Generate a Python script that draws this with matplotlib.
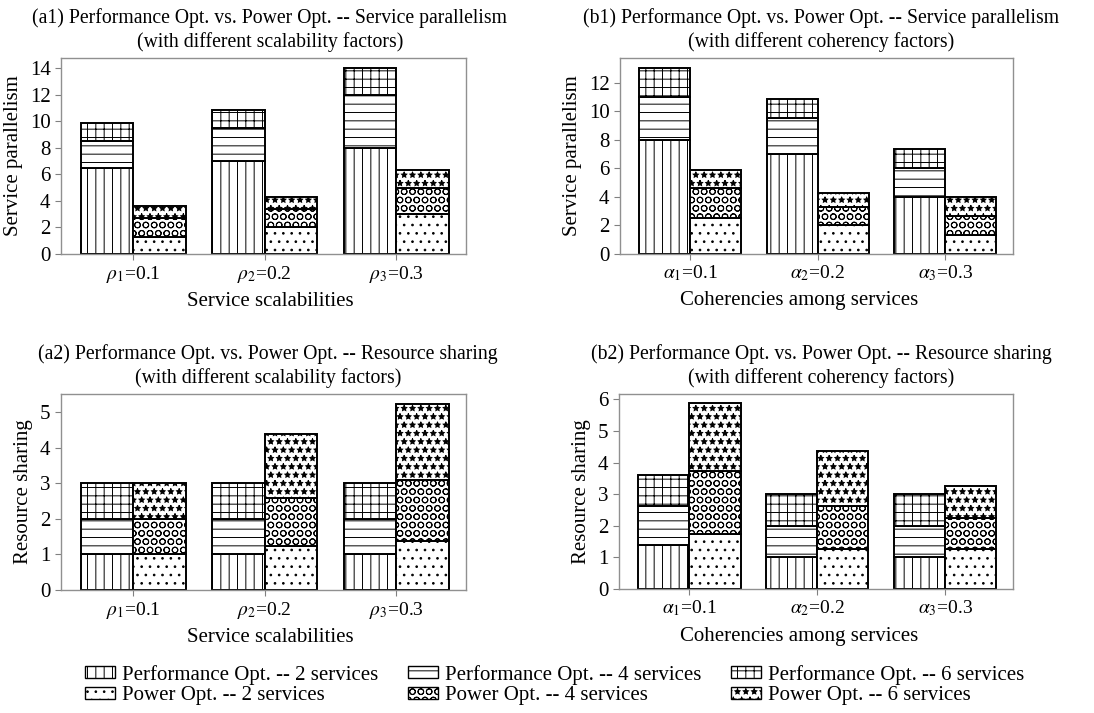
import numpy as np
import matplotlib
matplotlib.use("Agg")
import matplotlib.pyplot as plt
from matplotlib.patches import Patch

plt.rcParams["font.family"] = ["Liberation Serif", "DejaVu Serif"]
plt.rcParams["mathtext.fontset"] = "stix"
plt.rcParams["hatch.linewidth"] = 0.7

# stacked segment heights: [group1, group2, group3]
# (a1) service parallelism vs scalability
a1_perf2 = [6.5, 7.0, 8.0]
a1_perf4 = [2.0, 2.5, 4.0]
a1_perf6 = [1.35, 1.35, 2.0]
a1_pow2 = [1.3, 2.0, 3.0]
a1_pow4 = [1.4, 1.4, 2.0]
a1_pow6 = [0.95, 0.9, 1.35]

# (b1) service parallelism vs coherency
b1_perf2 = [8.0, 7.0, 4.0]
b1_perf4 = [3.0, 2.5, 2.0]
b1_perf6 = [2.0, 1.35, 1.35]
b1_pow2 = [2.5, 2.0, 1.3]
b1_pow4 = [2.1, 1.3, 1.35]
b1_pow6 = [1.25, 1.0, 1.35]

# (a2) resource sharing vs scalability
a2_perf2 = [1.0, 1.0, 1.0]
a2_perf4 = [1.0, 1.0, 1.0]
a2_perf6 = [1.0, 1.0, 1.0]
a2_pow2 = [1.0, 1.25, 1.37]
a2_pow4 = [1.0, 1.35, 1.73]
a2_pow6 = [1.0, 1.78, 2.15]

# (b2) resource sharing vs coherency
b2_perf2 = [1.38, 1.0, 1.0]
b2_perf4 = [1.24, 1.0, 1.0]
b2_perf6 = [1.0, 1.0, 1.0]
b2_pow2 = [1.75, 1.25, 1.25]
b2_pow4 = [1.97, 1.37, 1.0]
b2_pow6 = [2.16, 1.76, 1.0]

rho_labels = [r"$\rho_1$=0.1", r"$\rho_2$=0.2", r"$\rho_3$=0.3"]
alpha_labels = [r"$\alpha_1$=0.1", r"$\alpha_2$=0.2", r"$\alpha_3$=0.3"]

series_names = ["Performance Opt. -- 2 services", "Performance Opt. -- 4 services",
                "Performance Opt. -- 6 services", "Power Opt. -- 2 services",
                "Power Opt. -- 4 services", "Power Opt. -- 6 services"]
hatches = ["||", "--", "++", "..", "OO", "**"]

W, H = 1094, 713
fig = plt.figure(figsize=(W / 100, H / 100), dpi=100)


def px_axes(l, t, r, b):
    return fig.add_axes([l / W, 1 - b / H, (r - l) / W, (b - t) / H])


def draw(ax, perf, power, labels, ylim, yticks, ylabel):
    x = np.arange(3)
    bw = 0.4
    base = np.zeros(3)
    for vals, h in zip(perf, hatches[:3]):
        ax.bar(x - bw / 2, vals, bw, bottom=base, facecolor="white",
               edgecolor="black", hatch=h, linewidth=1.4)
        base = base + np.array(vals)
    base = np.zeros(3)
    for vals, h in zip(power, hatches[3:]):
        ax.bar(x + bw / 2, vals, bw, bottom=base, facecolor="white",
               edgecolor="black", hatch=h, linewidth=1.4)
        base = base + np.array(vals)
    ax.set_xlim(-0.55, 2.53)
    ax.set_ylim(*ylim)
    ax.set_yticks(yticks)
    ax.set_xticks(x)
    ax.set_xticklabels(labels, fontsize=14)
    ax.tick_params(axis="y", labelsize=15, colors="#808080", length=4, labelcolor="black")
    ax.tick_params(axis="x", colors="#808080", length=4, labelcolor="black", pad=3)
    for s in ax.spines.values():
        s.set_color("#909090")
        s.set_linewidth(1.0)
    ax.set_ylabel(ylabel, fontsize=15, labelpad=5)


ax_a1 = px_axes(61, 58, 466, 254)
draw(ax_a1, [a1_perf2, a1_perf4, a1_perf6], [a1_pow2, a1_pow4, a1_pow6],
     rho_labels, (0, 14.77), range(0, 15, 2), "Service parallelism")
ax_b1 = px_axes(620, 58, 1013, 254)
draw(ax_b1, [b1_perf2, b1_perf4, b1_perf6], [b1_pow2, b1_pow4, b1_pow6],
     alpha_labels, (0, 13.73), range(0, 13, 2), "Service parallelism")
ax_a2 = px_axes(61, 394, 466, 590)
draw(ax_a2, [a2_perf2, a2_perf4, a2_perf6], [a2_pow2, a2_pow4, a2_pow6],
     rho_labels, (0, 5.52), range(0, 6), "Resource sharing")
ax_b2 = px_axes(619, 394, 1013, 589)
draw(ax_b2, [b2_perf2, b2_perf4, b2_perf6], [b2_pow2, b2_pow4, b2_pow6],
     alpha_labels, (0, 6.17), range(0, 7), "Resource sharing")

titles = [
    (270, 30, "(a1) Performance Opt. vs. Power Opt. -- Service parallelism\n(with different scalability factors)"),
    (821, 30, "(b1) Performance Opt. vs. Power Opt. -- Service parallelism\n(with different coherency factors)"),
    (268, 366, "(a2) Performance Opt. vs. Power Opt. -- Resource sharing\n(with different scalability factors)"),
    (821, 366, "(b2) Performance Opt. vs. Power Opt. -- Resource sharing\n(with different coherency factors)"),
]
for x, y, t in titles:
    fig.text(x / W, 1 - y / H, t, ha="center", va="center", fontsize=14.2, linespacing=1.3)

xlabels = [(270, 301, "Service scalabilities"), (799, 301, "Coherencies among services"),
           (270, 637, "Service scalabilities"), (799, 637, "Coherencies among services")]
for x, y, t in xlabels:
    fig.text(x / W, 1 - y / H, t, ha="center", va="center", fontsize=15)

handles = [Patch(facecolor="white", edgecolor="black", hatch=h, linewidth=1.0) for h in hatches]
order = [0, 3, 1, 4, 2, 5]
fig.legend([handles[i] for i in order], [series_names[i] for i in order],
           ncol=3, loc="center", bbox_to_anchor=(0.507, 1 - 685 / H), frameon=False,
           fontsize=15, handlelength=1.45, handleheight=0.5, handletextpad=0.35,
           columnspacing=1.4, labelspacing=0.08, borderpad=0.2)

fig.savefig("out.png", dpi=100)
